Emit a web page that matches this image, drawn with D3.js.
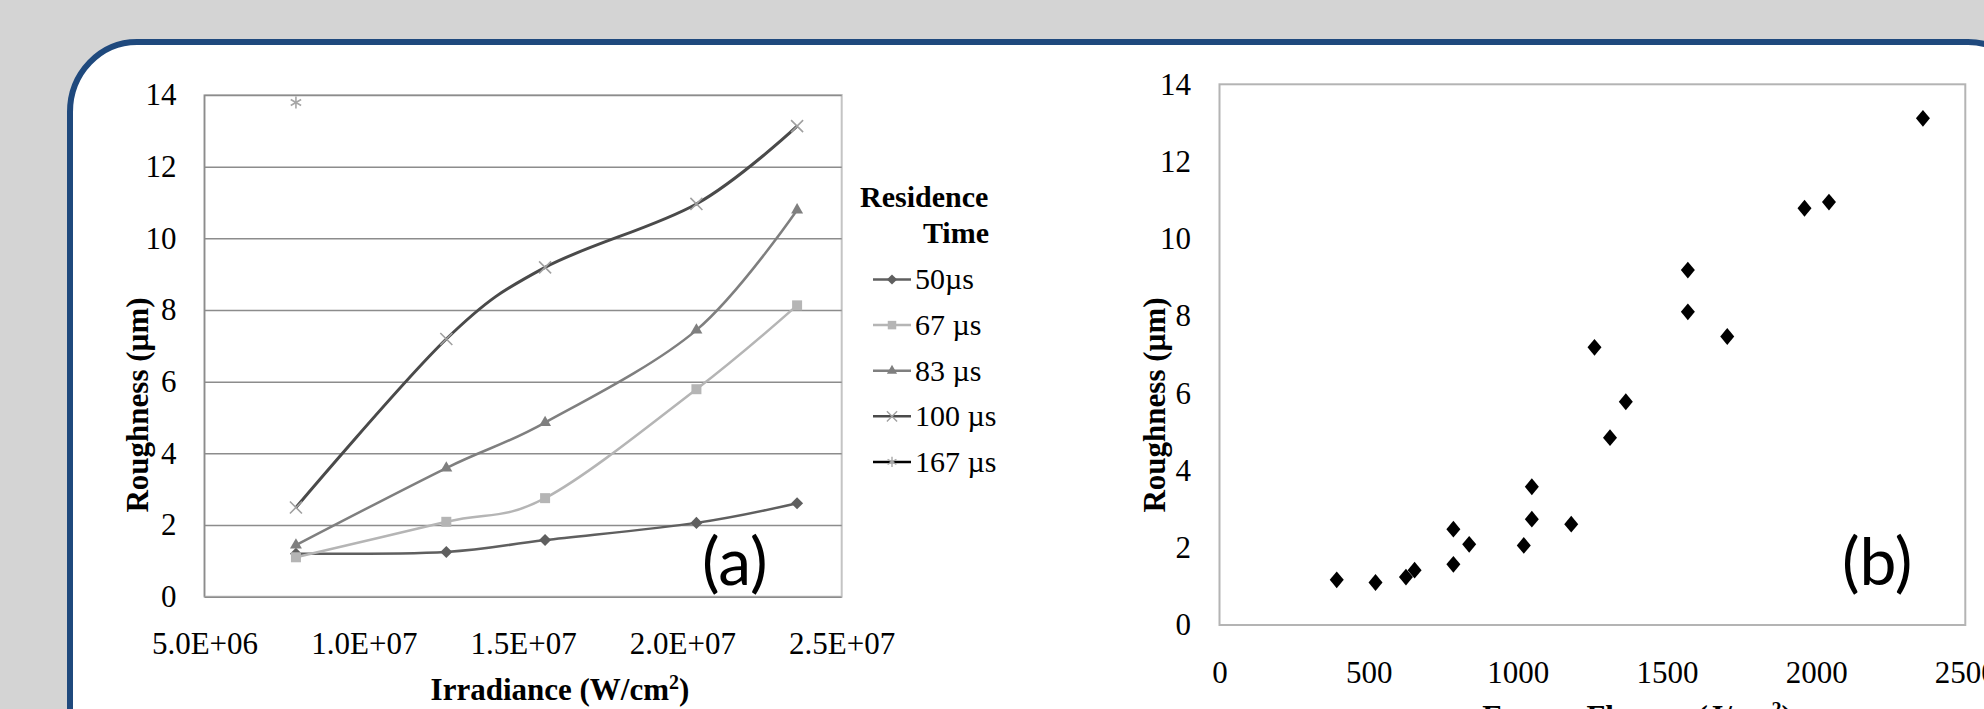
<!DOCTYPE html>
<html>
<head>
<meta charset="utf-8">
<script src="https://cdn.jsdelivr.net/npm/d3@7"></script>
<style>
  body { margin: 0; background: #d4d4d4; overflow: hidden; }
  text { font-family: "Liberation Serif", "Times New Roman", serif; fill: #000; }
  .tick text { font-size: 31px; }
  .title { font-size: 31px; font-weight: bold; }
  .legend text { font-size: 30px; }
  .tag { font-family: Lato, "Open Sans", sans-serif; font-size: 66px; }
</style>
</head>
<body>
<script>
// ---- data ----
const irradiance = [7.87e6, 1.259e7, 1.569e7, 2.044e7, 2.36e7];
const seriesNames = ["50µs", "67 µs", "83 µs", "100 µs", "167 µs"];
const rough50  = [1.20, 1.25, 1.58, 2.06, 2.61];
const rough67  = [1.10, 2.09, 2.75, 5.79, 8.13];
const rough83  = [1.44, 3.59, 4.86, 7.44, 10.79];
const rough100 = [2.49, 7.19, 9.19, 10.96, 13.13];
const rough167 = [13.79];

const fluence = [393, 523, 625, 654, 784, 784, 837, 1020, 1047, 1047,
                 1179, 1257, 1309, 1362, 1570, 1570, 1702, 1961, 2043, 2358];
const roughB  = [1.17, 1.10, 1.24, 1.42, 1.57, 2.48, 2.09, 2.06, 2.74, 3.58,
                 2.61, 7.19, 4.85, 5.78, 8.11, 9.19, 7.47, 10.79, 10.95, 13.12];

const yTicks = [0, 2, 4, 6, 8, 10, 12, 14];
const xTicksA = [5e6, 1e7, 1.5e7, 2e7, 2.5e7];
const xTicksB = [0, 500, 1000, 1500, 2000, 2500];

// ---- styles ----
const seriesStyle = [
  { line: "#5f5f5f", mark: "#5f5f5f", sym: "diamond",  w: 2.5 },
  { line: "#b5b5b5", mark: "#b5b5b5", sym: "square",   w: 2.5 },
  { line: "#7f7f7f", mark: "#7f7f7f", sym: "triangle", w: 2.5 },
  { line: "#4a4a4a", mark: "#a0a0a0", sym: "times",    w: 3 },
  { line: "#000000", mark: "#a6a6a6", sym: "asterisk", w: 2 }
];
const seriesValues = [rough50, rough67, rough83, rough100, rough167];

const W = 1984, H = 709;
const svg = d3.select("body").append("svg")
  .attr("width", W)
  .attr("height", H);

// panel with rounded corners
svg.append("rect")
   .attr("x", 70).attr("y", 42)
   .attr("width", 1965).attr("height", 760)
   .attr("rx", 67).attr("ry", 70)
   .attr("fill", "#fff")
   .attr("stroke", "#1f497d")
   .attr("stroke-width", 6);

const fmtE = v => {
  let [m, e] = v.toExponential(1).split("e");
  let n = +e;
  return m + "E" + (n < 0 ? "-" : "+") + String(Math.abs(n)).padStart(2, "0");
};

function marker(sel, sym, color) {
  let gen;
  if (sym == "diamond") gen = d3.symbol(d3.symbolDiamond2, 92);
  if (sym == "square") gen = d3.symbol(d3.symbolSquare, 100);
  if (sym == "triangle") gen = d3.symbol(d3.symbolTriangle, 62);
  if (sym == "times") gen = d3.symbol(d3.symbolTimes, 96);
  if (sym == "asterisk") gen = d3.symbol(d3.symbolAsterisk, 101);
  let stroked = sym == "times" || sym == "asterisk";
  sel.attr("d", gen())
     .attr("fill", stroked ? "none" : color)
     .attr("stroke", stroked ? color : "none")
     .attr("stroke-width", 1.6);
}

// ================= chart (a) =================
const xA = d3.scaleLinear().domain([5e6, 2.5e7]).range([204.5, 841.7]);
const yA = d3.scaleLinear().domain([0, 14]).range([596.7, 95]);

const gA = svg.append("g");

gA.append("rect")
  .attr("x", xA.range()[0]).attr("y", yA.range()[1])
  .attr("width", xA.range()[1] - xA.range()[0])
  .attr("height", yA.range()[0] - yA.range()[1])
  .attr("fill", "none")
  .attr("stroke", "#c4c4c4")
  .attr("stroke-width", 2);

gA.append("g")
  .attr("transform", `translate(${xA.range()[0]},0)`)
  .call(d3.axisLeft(yA).tickValues(yTicks)
          .tickSize(-(xA.range()[1] - xA.range()[0])).tickFormat(""))
  .call(g => g.select(".domain").remove())
  .call(g => g.selectAll("line").attr("stroke", "#8c8c8c").attr("stroke-width", 1.5));

gA.append("line")
  .attr("x1", xA.range()[0]).attr("x2", xA.range()[0])
  .attr("y1", yA.range()[0]).attr("y2", yA.range()[1])
  .attr("stroke", "#8c8c8c").attr("stroke-width", 1.5);

gA.append("g")
  .attr("transform", `translate(${xA.range()[0]},0)`)
  .call(d3.axisLeft(yA).tickValues(yTicks).tickSize(0).tickPadding(28))
  .call(g => g.select(".domain").remove());

gA.append("g")
  .attr("transform", `translate(0,${yA.range()[0]})`)
  .call(d3.axisBottom(xA).tickValues(xTicksA).tickSize(0).tickFormat(fmtE))
  .call(g => g.select(".domain").remove())
  .call(g => g.selectAll("text").attr("y", 46).attr("dy", "0.35em"));

const lineA = d3.line()
  .x((d, i) => xA(irradiance[i]))
  .y(d => yA(d))
  .curve(d3.curveCardinal.tension(0));

seriesValues.forEach((vals, s) => {
  let st = seriesStyle[s];
  if (vals.length > 1) {
    gA.append("path")
      .attr("d", lineA(vals))
      .attr("fill", "none")
      .attr("stroke", st.line)
      .attr("stroke-width", st.w);
  }
  gA.selectAll(null)
    .data(vals)
    .enter()
    .append("path")
    .attr("transform", (d, i) => `translate(${xA(irradiance[i])},${yA(d)})`)
    .call(marker, st.sym, st.mark);
});

gA.append("text")
  .attr("class", "title")
  .attr("text-anchor", "middle")
  .attr("dy", "0.35em")
  .attr("transform", "translate(137,405) rotate(-90)")
  .text("Roughness (µm)");

let xtA = gA.append("text")
  .attr("class", "title")
  .attr("x", 560).attr("y", 700)
  .attr("text-anchor", "middle");
xtA.append("tspan").text("Irradiance (W/cm");
xtA.append("tspan").attr("font-size", 20).attr("dy", -11).text("2");
xtA.append("tspan").attr("dy", 11).text(")");

gA.append("text")
  .attr("class", "tag")
  .attr("x", 702).attr("y", 585)
  .text("(a)");

// legend
const leg = svg.append("g").attr("class", "legend");
leg.append("text")
   .attr("x", 860).attr("y", 207)
   .attr("font-weight", "bold")
   .text("Residence");
leg.append("text")
   .attr("x", 989).attr("y", 243)
   .attr("text-anchor", "end")
   .attr("font-weight", "bold")
   .text("Time");

seriesNames.forEach((name, i) => {
  let st = seriesStyle[i];
  let y = 279.5 + i * 45.6;
  leg.append("line")
     .attr("x1", 873).attr("x2", 911)
     .attr("y1", y).attr("y2", y)
     .attr("stroke", st.line)
     .attr("stroke-width", 2.5);
  leg.append("path")
     .attr("transform", `translate(892,${y}) scale(0.85)`)
     .call(marker, st.sym, st.mark);
  leg.append("text")
     .attr("x", 915).attr("y", y)
     .attr("dy", "0.33em")
     .text(name);
});

// ================= chart (b) =================
const xB = d3.scaleLinear().domain([0, 2500]).range([1219.5, 1965.3]);
const yB = d3.scaleLinear().domain([0, 14]).range([625, 84.3]);

const gB = svg.append("g");

gB.append("rect")
  .attr("x", xB.range()[0]).attr("y", yB.range()[1])
  .attr("width", xB.range()[1] - xB.range()[0])
  .attr("height", yB.range()[0] - yB.range()[1])
  .attr("fill", "none")
  .attr("stroke", "#b4b4b4")
  .attr("stroke-width", 2);

gB.append("g")
  .attr("transform", `translate(${xB.range()[0]},0)`)
  .call(d3.axisLeft(yB).tickValues(yTicks).tickSize(0).tickPadding(28.5))
  .call(g => g.select(".domain").remove());

gB.append("g")
  .attr("transform", `translate(0,${yB.range()[0]})`)
  .call(d3.axisBottom(xB).tickValues(xTicksB).tickSize(0).tickFormat(d3.format("d")))
  .call(g => g.select(".domain").remove())
  .call(g => g.selectAll("text").attr("y", 47.5).attr("dy", "0.35em"));

gB.selectAll("path.pt")
  .data(fluence)
  .enter()
  .append("path")
  .attr("class", "pt")
  .attr("transform", (d, i) => `translate(${xB(d)},${yB(roughB[i])}) scale(1,1.2)`)
  .attr("d", d3.symbol(d3.symbolDiamond2, 125)())
  .attr("fill", "#000");

gB.append("text")
  .attr("class", "title")
  .attr("text-anchor", "middle")
  .attr("dy", "0.35em")
  .attr("transform", "translate(1154,405) rotate(-90)")
  .text("Roughness (µm)");

let xtB = gB.append("text")
  .attr("class", "title")
  .attr("x", 1637).attr("y", 727)
  .attr("text-anchor", "middle");
xtB.append("tspan").text("Energy Fluence (J/cm");
xtB.append("tspan").attr("font-size", 20).attr("dy", -11).text("2");
xtB.append("tspan").attr("dy", 11).text(")");

gB.append("text")
  .attr("class", "tag")
  .attr("x", 1842).attr("y", 585)
  .text("(b)");
</script>
</body>
</html>
